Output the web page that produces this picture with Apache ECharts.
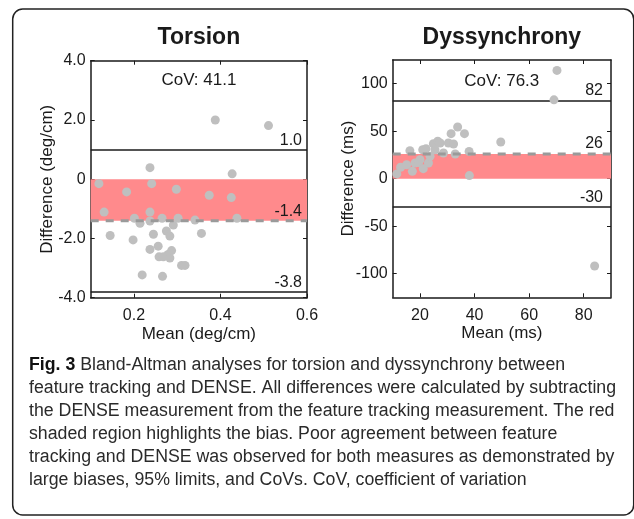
<!DOCTYPE html>
<html>
<head>
<meta charset="utf-8">
<title>Fig. 3 Bland-Altman</title>
<script src="https://cdn.jsdelivr.net/npm/echarts@6.0.0/dist/echarts.min.js"></script>
<style>
  html, body { margin: 0; padding: 0; background: #fff; }
  #chart { width: 634px; height: 519px; }
</style>
</head>
<body>
<div id="chart"></div>
<script>
// torsion (deg/cm)
const torsionMean = [0.119, 0.131, 0.145, 0.183, 0.198, 0.201, 0.214, 0.219, 0.237, 0.241,
  0.237, 0.237, 0.237, 0.245, 0.256, 0.258, 0.265, 0.266, 0.268, 0.275,
  0.283, 0.279, 0.283, 0.287, 0.291, 0.298, 0.302, 0.310, 0.318, 0.341,
  0.356, 0.374, 0.388, 0.425, 0.427, 0.438, 0.511];
const torsionDiff = [-0.15, -1.11, -1.90, -0.43, -2.05, -1.32, -1.49, -3.23, 0.39, -0.15,
  -1.11, -1.41, -2.37, -1.86, -2.26, -2.62, -1.32, -3.28, -2.62, -1.75,
  -1.92, -2.54, -2.66, -2.41, -1.55, -0.34, -1.32, -2.91, -2.91, -1.38,
  -1.83, -0.54, 2.0, -0.62, 0.18, -1.32, 1.81];
const torsionRange = [0.1, 0.6];
const torsionLimits = [1.0, -3.8];
const torsionLimitLabels = ["1.0", "-3.8"];
const torsionBias = -1.4;
const torsionBiasLabel = "-1.4";
const torsionXTicks = [0.2, 0.4, 0.6];
const torsionYTicks = [-4, -2, 0, 2, 4];

// dyssynchrony (ms)
const dysMean = [11.5, 12.9, 16.3, 17.2, 15.1, 18.2, 19.5, 20.0, 21.2, 21.0,
  22.2, 23.1, 23.7, 24.9, 25.5, 26.5, 27.4, 28.6, 30.4, 31.4,
  32.3, 32.9, 33.8, 36.3, 38.0, 38.1, 49.6, 70.2, 69.1, 84.0];
const dysDiff = [5, 12, 29.5, 7.7, 14.7, 16.5, 17, 20, 10.5, 30.5,
  31.6, 16.5, 23.5, 36.8, 30.5, 39.5, 37.6, 27, 37.6, 47.4,
  36.5, 26, 54.4, 47.4, 28.7, 3.2, 38.6, 114, 83, -92];
const dysRange = [10, 90];
const dysLimits = [82, -30];
const dysLimitLabels = ["82", "-30"];
const dysBias = 26;
const dysBiasLabel = "26";
const dysXTicks = [20, 40, 60, 80];
const dysYTicks = [-100, -50, 0, 50, 100];

const captionLines = [
  "{b|Fig. 3} Bland-Altman analyses for torsion and dyssynchrony between",
  "feature tracking and DENSE. All differences were calculated by subtracting",
  "the DENSE measurement from the feature tracking measurement. The red",
  "shaded region highlights the bias. Poor agreement between feature",
  "tracking and DENSE was observed for both measures as demonstrated by",
  "large biases, 95% limits, and CoVs. CoV, coefficient of variation",
];

const FONT = "Liberation Sans, Arial, sans-serif";
const INK = "#1a1a1a";

const grids = [
  { left: 90.7, top: 60.7, width: 216.3, height: 237 },
  { left: 392.7, top: 60, width: 218.3, height: 237.3 },
];

function xAxes(gi, range, ticks, fmt, name) {
  const base = {
    type: "value", gridIndex: gi, min: range[0], max: range[1],
    axisLine: { show: true, onZero: false, lineStyle: { color: INK, width: 1.5 } },
    axisTick: { show: true, inside: true, length: 4, customValues: ticks, lineStyle: { color: INK, width: 1 } },
    splitLine: { show: false },
  };
  return [
    {
      ...base, position: "bottom",
      name, nameLocation: "middle", nameGap: 28, nameMoveOverlap: false,
      nameTextStyle: { fontFamily: FONT, fontSize: 17, color: INK },
      axisLabel: { customValues: ticks, formatter: fmt, margin: 10, fontFamily: FONT, fontSize: 16, color: INK },
    },
    { ...base, position: "top", axisLabel: { show: false } },
  ];
}

function yAxes(gi, min, max, ticks, fmt, name, gap) {
  const base = {
    type: "value", gridIndex: gi, min, max,
    axisLine: { show: true, onZero: false, lineStyle: { color: INK, width: 1.5 } },
    axisTick: { show: true, inside: true, length: 4, customValues: ticks, lineStyle: { color: INK, width: 1 } },
    splitLine: { show: false },
  };
  return [
    {
      ...base, position: "left",
      name, nameLocation: "middle", nameGap: gap, nameMoveOverlap: false,
      nameTextStyle: { fontFamily: FONT, fontSize: 17, color: INK },
      axisLabel: { customValues: ticks, formatter: fmt, margin: 5, fontFamily: FONT, fontSize: 16, color: INK },
    },
    { ...base, position: "right", axisLabel: { show: false } },
  ];
}

function plotSeries(xi, yi, xs, ys, range, limits, limitLabels, bias, biasLabel, labelDist) {
  const pts = xs.map((x, i) => [x, ys[i]]);
  const lineLabel = (txt) => ({
    show: true, position: "insideEndTop", distance: labelDist,
    formatter: txt, fontFamily: FONT, fontSize: 16, color: INK,
  });
  return [
    {
      type: "scatter", xAxisIndex: xi, yAxisIndex: yi, z: 3,
      data: pts, symbolSize: 9, silent: true,
      itemStyle: { color: "#bfbfbf", opacity: 1 },
      markArea: {
        z: 1, silent: true,
        itemStyle: { color: "#ff8a8c", opacity: 1 },
        data: [[{ yAxis: 0 }, { yAxis: bias }]],
      },
      markLine: {
        z: 2, silent: true, symbol: "none", animation: false,
        lineStyle: { color: INK, width: 1.5, type: "solid" },
        data: limits.map((v, i) => ({ yAxis: v, label: lineLabel(limitLabels[i]) }))
          .concat([{ yAxis: bias, lineStyle: { color: "rgba(0,0,0,0)" }, label: lineLabel(biasLabel) }]),
      },
    },
    {
      // bias line, dashed
      type: "line", xAxisIndex: xi, yAxisIndex: yi, z: 4, silent: true,
      data: range.map((x) => [x, bias]),
      symbol: "none",
      lineStyle: { color: "#9a9a9a", width: 3, type: [8, 7] },
    },
  ];
}

const chart = echarts.init(document.getElementById("chart"), null, { renderer: "canvas" });

const option = {
  animation: false,
  backgroundColor: "#fff",
  grid: grids.map((g) => ({ ...g, show: false })),
  xAxis: [
    ...xAxes(0, torsionRange, torsionXTicks, (v) => v.toFixed(1), "Mean (deg/cm)"),
    ...xAxes(1, dysRange, dysXTicks, (v) => String(v), "Mean (ms)"),
  ],
  yAxis: [
    ...yAxes(0, -4, 4, torsionYTicks, (v) => (v === 0 ? "0" : v.toFixed(1)), "Difference (deg/cm)", 35),
    ...yAxes(1, -125, 125, dysYTicks, (v) => String(v), "Difference (ms)", 36),
  ],
  series: [
    ...plotSeries(0, 0, torsionMean, torsionDiff, torsionRange, torsionLimits, torsionLimitLabels, torsionBias, torsionBiasLabel, [5, 1]),
    ...plotSeries(2, 2, dysMean, dysDiff, dysRange, dysLimits, dysLimitLabels, dysBias, dysBiasLabel, [8, 2]),
  ],
  graphic: [
    {
      type: "rect", silent: true, z: -1,
      shape: { x: 12.7, y: 9, width: 621, height: 506, r: 10 },
      style: { fill: "none", stroke: "#222", lineWidth: 1.5 },
    },
    {
      type: "text", x: 198.9, y: 38, silent: true,
      style: { text: "Torsion", font: "bold 23px " + FONT, fill: INK, textAlign: "center", textVerticalAlign: "middle" },
    },
    {
      type: "text", x: 501.8, y: 38, silent: true,
      style: { text: "Dyssynchrony", font: "bold 23px " + FONT, fill: INK, textAlign: "center", textVerticalAlign: "middle" },
    },
    {
      type: "text", x: 198.9, y: 80.5, silent: true,
      style: { text: "CoV: 41.1", font: "17px " + FONT, fill: INK, textAlign: "center", textVerticalAlign: "middle" },
    },
    {
      type: "text", x: 501.8, y: 81.5, silent: true,
      style: { text: "CoV: 76.3", font: "17px " + FONT, fill: INK, textAlign: "center", textVerticalAlign: "middle" },
    },
    {
      // caption, squeezed a little to match the narrower original face
      type: "text", x: 29, y: 353.5, scaleX: 0.985, silent: true,
      style: {
        text: captionLines.join("\n"),
        fontFamily: "Liberation Sans, sans-serif",
        fontSize: 18, lineHeight: 23, fill: "#2a2a2a",
        rich: { b: { fontWeight: "bold", fontSize: 18, lineHeight: 23, fill: "#111",
          fontFamily: "Liberation Sans, sans-serif" } },
      },
    },
  ],
};

chart.setOption(option);
</script>
</body>
</html>
